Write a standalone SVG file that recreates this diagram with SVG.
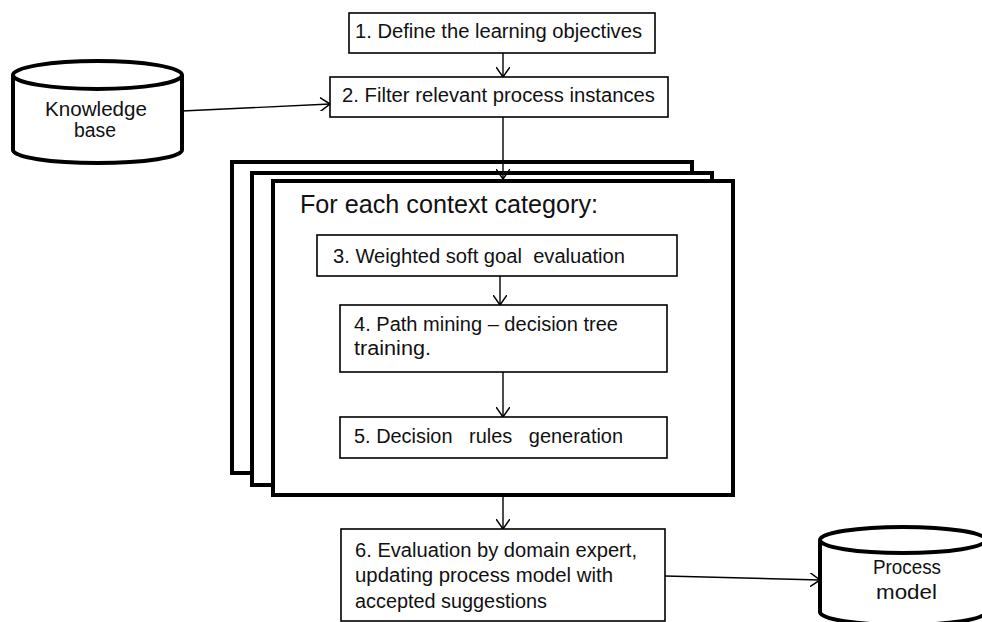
<svg xmlns="http://www.w3.org/2000/svg" width="982" height="622" viewBox="0 0 982 622">
<defs>
<style>
.box{fill:#fff;stroke:#000;stroke-width:1.6}
.frame{fill:#fff;stroke:#000;stroke-width:4}
.cyl{fill:#fff;stroke:#000;stroke-width:4}
.t{font-family:"Liberation Sans",Arial,sans-serif;font-size:20px;fill:#111}
.title{font-family:"Liberation Sans",Arial,sans-serif;font-size:25px;fill:#111}
.c{stroke:#000;stroke-width:1.4;fill:none}
</style>
<marker id="ah" viewBox="0 0 10 14" refX="10" refY="7" markerWidth="10" markerHeight="14" markerUnits="userSpaceOnUse" orient="auto">
<path d="M0,0 L10,7 L0,14" fill="none" stroke="#000" stroke-width="1.5"/>
</marker>
</defs>
<rect width="982" height="622" fill="#fff"/>
<g id="frames">
<rect class="frame" x="232" y="162" width="460" height="311"/>
<rect class="frame" x="252" y="173" width="460" height="312"/>
<rect class="frame" x="273" y="181" width="460" height="314"/>
<text class="title" x="300" y="213" textLength="298" lengthAdjust="spacingAndGlyphs">For each context category:</text>
</g>
<g id="kb">
<path class="cyl" d="M13,75 L13,150 A84.5,13 0 0 0 182,150 L182,75"/>
<ellipse class="cyl" cx="97.5" cy="75" rx="84.5" ry="14"/>
<text class="t" x="45" y="116" textLength="102" lengthAdjust="spacingAndGlyphs">Knowledge</text>
<text class="t" x="74" y="137" textLength="42" lengthAdjust="spacingAndGlyphs">base</text>
</g>
<g id="pm">
<path class="cyl" d="M820,540 L820,612 A83,13 0 0 0 986,612 L986,540"/>
<ellipse class="cyl" cx="903" cy="540" rx="83" ry="13"/>
<text class="t" x="873" y="574" textLength="68" lengthAdjust="spacingAndGlyphs">Process</text>
<text class="t" x="876" y="599" textLength="61" lengthAdjust="spacingAndGlyphs">model</text>
</g>
<g id="n1">
<rect class="box" x="349" y="13" width="306" height="40"/>
<text class="t" x="355" y="38" textLength="287" lengthAdjust="spacingAndGlyphs">1. Define the learning objectives</text>
</g>
<g id="n2">
<rect class="box" x="330" y="77" width="338" height="40"/>
<text class="t" x="342" y="102" textLength="313" lengthAdjust="spacingAndGlyphs">2. Filter relevant process instances</text>
</g>
<g id="n3">
<rect class="box" x="317" y="235" width="360" height="41"/>
<text class="t" x="333" y="263" textLength="292" lengthAdjust="spacingAndGlyphs" xml:space="preserve">3. Weighted soft goal  evaluation</text>
</g>
<g id="n4">
<rect class="box" x="340" y="305" width="327" height="67"/>
<text class="t" x="354" y="331" textLength="264" lengthAdjust="spacingAndGlyphs">4. Path mining – decision tree</text>
<text class="t" x="354" y="355" textLength="77" lengthAdjust="spacingAndGlyphs">training.</text>
</g>
<g id="n5">
<rect class="box" x="340" y="417" width="327" height="41"/>
<text class="t" x="354" y="443" textLength="269" lengthAdjust="spacingAndGlyphs" xml:space="preserve">5. Decision   rules   generation</text>
</g>
<g id="n6">
<rect class="box" x="341" y="529" width="324" height="92"/>
<text class="t" x="355" y="557" textLength="282" lengthAdjust="spacingAndGlyphs">6. Evaluation by domain expert,</text>
<text class="t" x="355" y="582" textLength="258" lengthAdjust="spacingAndGlyphs">updating process model with</text>
<text class="t" x="355" y="608" textLength="192" lengthAdjust="spacingAndGlyphs">accepted suggestions</text>
</g>
<g id="connectors">
<line class="c" x1="503" y1="53" x2="503" y2="77" marker-end="url(#ah)"/>
<line class="c" x1="182" y1="111" x2="330" y2="104" marker-end="url(#ah)"/>
<line class="c" x1="503" y1="117" x2="503" y2="179" marker-end="url(#ah)"/>
<line class="c" x1="500" y1="276" x2="500" y2="305" marker-end="url(#ah)"/>
<line class="c" x1="503" y1="372" x2="503" y2="417" marker-end="url(#ah)"/>
<line class="c" x1="503" y1="497" x2="503" y2="529" marker-end="url(#ah)"/>
<line class="c" x1="665" y1="576" x2="820" y2="580" marker-end="url(#ah)"/>
</g>
</svg>
